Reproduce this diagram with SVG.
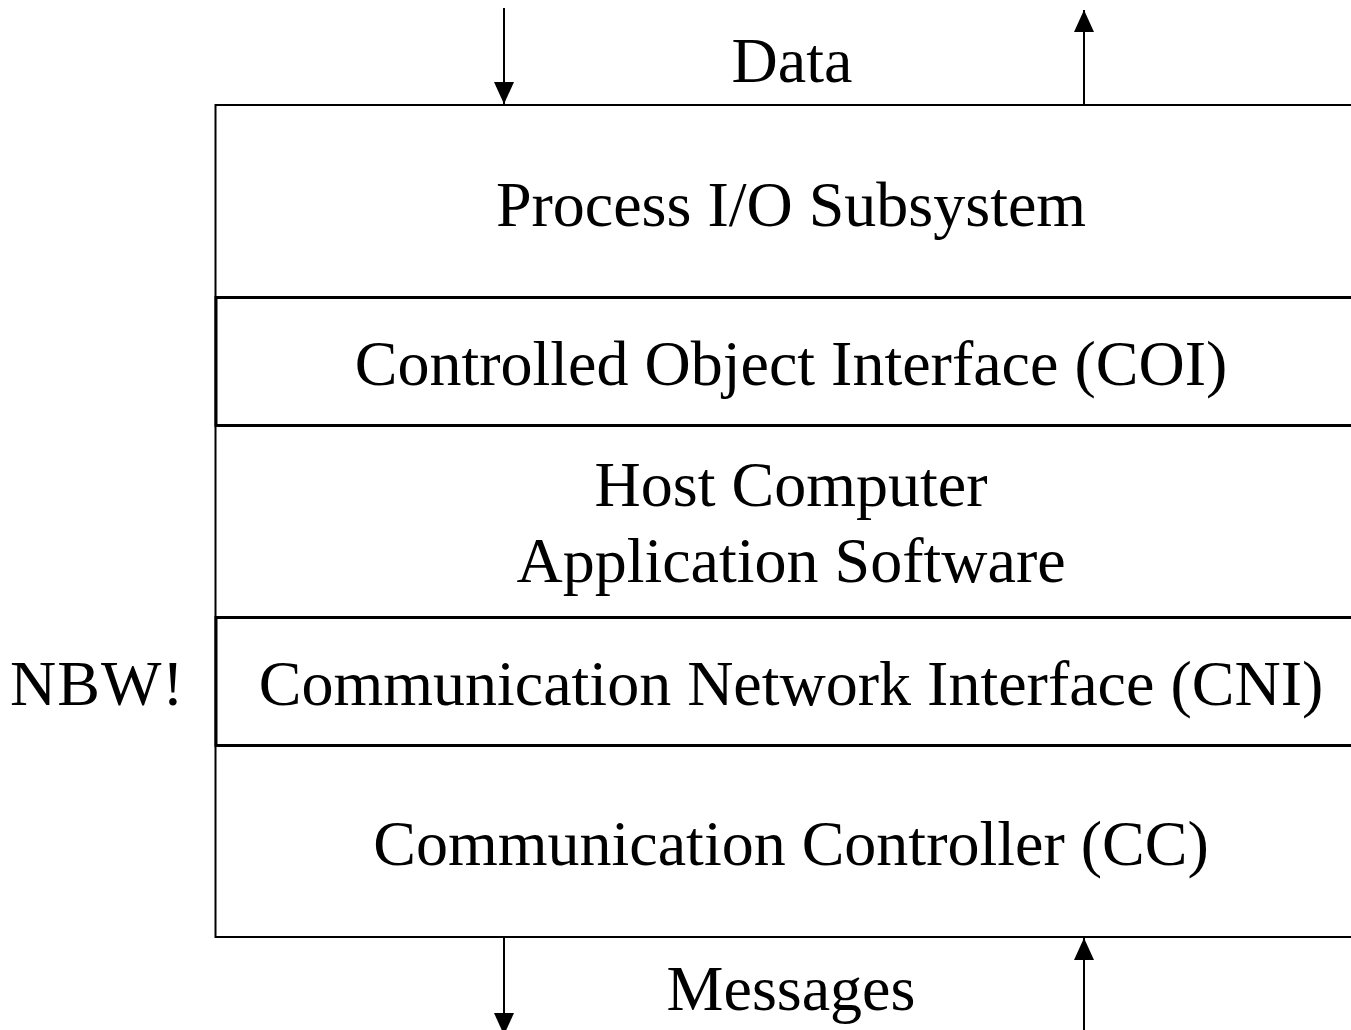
<svg xmlns="http://www.w3.org/2000/svg" width="1351" height="1030" viewBox="0 0 1351 1030">
<style>
text{font-family:"Liberation Serif","Times New Roman",serif;font-size:64px;fill:#000}
.c{text-anchor:middle}
.outer{fill:#fff;stroke:#000;stroke-width:2}
.band{fill:none;stroke:#000;stroke-width:3}
.ln{stroke:#000;stroke-width:2;fill:none}
</style>
<defs>
<marker id="ah2" viewBox="0 0 22 20" refX="22" refY="10" markerWidth="22" markerHeight="20" markerUnits="userSpaceOnUse" orient="auto">
<path d="M0,0 L22,10 L0,20 Z" fill="#000"/>
</marker>
</defs>
<g id="outer">
<rect class="outer" x="215.5" y="105" width="1200" height="832"/>
</g>
<g id="pio"><text class="c" x="791" y="226">Process I/O Subsystem</text></g>
<g id="coi">
<rect class="band" x="216" y="297.5" width="1200" height="128"/>
<text class="c" x="791" y="385">Controlled Object Interface (COI)</text>
</g>
<g id="host">
<text class="c" x="791" y="506">Host Computer</text>
<text class="c" x="791" y="582">Application Software</text>
</g>
<g id="cni">
<rect class="band" x="216" y="617.5" width="1200" height="128"/>
<text class="c" x="791" y="705">Communication Network Interface (CNI)</text>
</g>
<g id="nbw"><text x="10" y="705" letter-spacing="1">NBW!</text></g>
<g id="cc"><text class="c" x="791" y="865">Communication Controller (CC)</text></g>
<g id="data"><text class="c" x="792" y="82">Data</text></g>
<g id="messages"><text class="c" x="791" y="1010">Messages</text></g>
<g id="connectors">
<line class="ln" x1="504" y1="8" x2="504" y2="104" marker-end="url(#ah2)"/>
<line class="ln" x1="1084" y1="105" x2="1084" y2="10" marker-end="url(#ah2)"/>
<line class="ln" x1="504" y1="937" x2="504" y2="1035" marker-end="url(#ah2)"/>
<line class="ln" x1="1084" y1="1030" x2="1084" y2="938" marker-end="url(#ah2)"/>
</g>
</svg>
